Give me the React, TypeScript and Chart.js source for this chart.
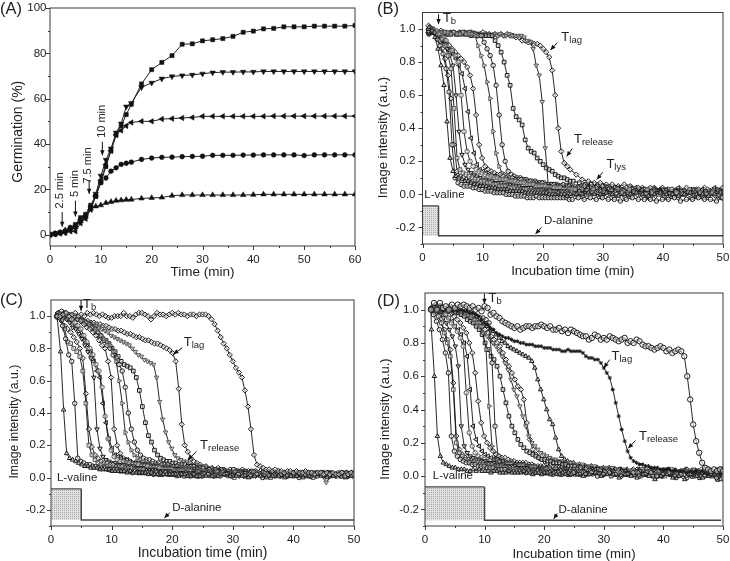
import React, { useEffect, useRef } from "react";
import { Chart, registerables } from "chart.js";
Chart.register(...registerables);

const FONT = "'Liberation Sans', Arial, sans-serif";

// ---------- Panel A ----------
const timeA = [0,1,2,3,4,5,6,7,8,9,
 10,11,12,13,14,15,16,18,20,22,
 24,26,28,30,32,34,36,38,40,42,
 44,46,48,50,52,54,56,58,60];
const germSquare = [0,0.5,1,1.5,3,4.5,7.5,9,13,17,
 23,30,37,44,48,53,57.5,66.5,72.8,76,
 79,84,84.2,85.5,86,86.5,87.5,89.3,89.8,90.8,
 91,91.7,91.7,91.7,92,92,92,92,92.3];
const germDown = [0,0.3,0.8,1,2,3,6,8,12,18,
 26,33,38,45,49,56.5,58,65,67,68.8,
 69.8,70.2,70.5,71,71.5,71.7,71.7,71.8,71.8,72,
 72,72,72,72,72,72,72,72,72];
const germLeft = [0,0.2,0.5,0.8,1.5,1.5,5,7,11,17,
 24,31,37,44,46,48,49.5,50,50,51,
 51.2,51.5,51.7,52.2,52.2,52.2,52.2,52.2,52.2,52.2,
 52.3,52.3,52.3,52.3,52.3,52.3,52.3,52.3,52.3];
const germCircle = [0,0.3,0.8,1.5,3,4,6.5,8,12,17,
 23,25,28,29.5,31,31.5,32,33.2,33.8,34.1,
 34.2,34.4,34.5,34.6,35,35,35,35.1,35.1,35.2,
 35.2,35.2,35.2,34.9,35.2,35.2,35.2,35.2,35.2];
const germUp = [0,0.5,1,2,3,3.5,6,8,11.5,12.5,
 13,14,14.5,15,15.2,15.4,15.5,16,16.2,16.4,
 17.2,17.5,17.5,17.5,17.5,17.5,17.5,17.5,17.6,17.8,
 17.8,17.8,17.8,17.8,17.8,17.8,17.8,17.8,17.8];

// ---------- tick values ----------
const ticksAy = [0,10,20,30,40,50,60,70,80,90,100];
const ticksAx = [0,5,10,15,20,25,30,35,40,45,50,55,60];
const ticksIntensity = [-0.3,-0.2,-0.1,0,0.1,0.2,0.3,0.4,0.5,0.6,0.7,0.8,0.9,1.0];
const ticksIncubation = [0,5,10,15,20,25,30,35,40,45,50];

// ---------- sampling times (min) ----------
const timeMain = [1,1.5,2,2.5,3,3.5,4,4.5,5,5.5,
 6,6.5,7,7.5,8,8.5,9,9.5,10,10.5,
 11,11.5,12,12.5,13,13.5,14,14.5,15,15.5,
 16,16.5,17,17.5,18,18.5,19,19.5,20,20.5,
 21,21.5,22,22.5,23,23.5,24,24.5,25,26,
 27,28,29,30,31,32,33,34,35,36,
 37,38,39,40,41,42,43,44,45,46,
 47,48,49,50];
const timeFine = [1,1.5,2,2.5,3,3.5,4,4.5,5,5.5,
 6,6.5,7,7.5,8,8.5,9,9.5,10,10.5,
 11,11.5,12,12.5,13,13.5,14,14.5,15,15.5,
 16,16.5,17,17.5,18,18.5,19,19.5,20,20.5,
 21,21.5,22,22.5,23,23.5,24,24.5,25,25.5,
 26,26.5,27,27.5,28,28.5,29,29.5,30,30.5,
 31,31.5,32,32.5,33,33.5,34,34.5,35,35.5,
 36,36.5,37,37.5,38,38.5,39,39.5,40,40.5,
 41,41.5,42,42.5,43,43.5,44,44.5,45,45.5,
 46,46.5,47,47.5,48,48.5,49,49.5,50];

// ---------- Panel B (image intensity x 100) ----------
const b1 = [100,101,99,95,88,78,66,44,22,14, 11,10,9,8,8,7,6,6,5,5, 5,4,4,4,3,3,3,3,2,2, 2,2,2,1,1,1,1,1,1,1, 1,0,0,0,1,0,0,-1,0,0, 0,1,0,0,1,0,-1,0,0,1, 0,-1,0,1,0,0,-1,0,1,0, 0,-1,0,1];
const b2 = [99,100,98,94,90,85,76,62,30,10, 7,6,5,5,5,4,4,3,3,2, 2,2,1,1,1,1,0,0,0,-1, -1,-1,-1,-2,-2,-2,-1,-2,-2,-2, -2,-2,-2,-2,-2,-2,-2,-3,-3,-2, -3,-2,-3,-2,-3,-3,-4,-3,-2,-3, -3,-3,-4,-3,-3,-2,-4,-3,-3,-2, -3,-3,-4,-2];
const b3 = [100,100,99,97,94,90,84,76,52,22, 15,13,12,11,10,9,9,8,8,7, 7,6,6,5,5,5,4,4,4,3, 3,3,3,2,2,2,2,2,1,1, 1,1,1,1,1,0,0,1,0,0, 0,1,0,1,0,0,1,0,1,0, 0,1,0,-1,0,1,0,1,0,1, 0,1,0,1];
const b4 = [102,101,100,97,93,88,82,72,58,30, 14,11,10,9,8,8,7,7,6,6, 5,5,5,4,4,4,3,4,3,3, 3,2,3,2,2,2,1,2,1,1, 1,2,1,1,0,1,1,0,1,0, -1,0,1,-1,0,-1,0,-2,-1,0, -1,-2,-1,0,-2,-1,-1,0,-2,-1, -2,0,-1,-2];
const b5 = [98,99,97,96,94,91,88,84,78,60, 38,24,18,15,13,12,11,10,9,9, 8,8,7,7,7,6,6,6,5,5, 5,4,4,4,4,3,3,3,3,2, 3,2,2,2,2,1,2,1,1,2, 1,1,2,0,1,2,1,0,2,1, 1,2,1,3,1,2,2,1,3,1, 2,1,3,2];
const b6 = [100,99,98,97,95,93,90,87,84,80, 60,38,26,20,17,15,14,13,12,11, 11,10,10,9,9,9,8,8,8,7, 7,7,6,6,6,5,5,5,5,4, 4,4,4,4,3,3,3,3,3,3, 2,3,2,1,2,3,2,3,2,1, 3,2,1,2,3,1,2,3,2,1, 3,2,2,3];
const b7 = [98,99,98,97,96,94,92,90,87,85, 82,78,73,64,50,34,25,18,15,14, 13,12,11,11,10,9,9,9,8,8, 8,7,7,7,6,6,6,6,5,5, 5,5,4,5,4,4,4,3,4,3, 3,4,3,3,2,3,4,2,3,2, 3,1,3,2,3,2,4,2,3,1, 3,2,4,2];
const b8 = [100,100,99,98,96,95,92,90,88,86, 84,82,80,77,72,64,48,30,22,17, 15,14,13,12,12,11,10,10,10,9, 9,9,8,8,8,7,7,7,7,6, 6,6,6,5,5,6,5,5,4,4, 5,4,4,5,3,4,3,4,3,4, 3,4,2,4,3,2,3,4,2,3, 4,2,3,4];
const b9 = [99,99,99,98,98,98,98,97,98,97, 97,98,97,97,97,96,90,84,78,68, 58,38,25,17,13,12,11,10,10,9, 9,8,8,8,7,7,7,7,6,6, 6,5,5,5,5,5,4,4,4,3, 4,3,3,4,2,3,2,3,1,2, 3,2,1,3,2,0,2,1,3,2, 1,2,0,1];
const b10 = [98,98,98,98,98,97,98,97,97,98, 97,97,98,97,98,97,97,96,96,92, 88,84,78,66,48,30,20,14,12,11, 10,10,9,9,8,8,8,7,7,7, 6,6,6,6,5,5,5,5,4,4, 4,4,3,3,4,3,3,2,3,2, 3,2,1,3,2,1,0,2,1,2, 0,2,1,-1];
const b11 = [97,98,98,97,97,98,97,97,98,97, 97,98,97,97,96,97,97,96,96,96, 96,96,93,90,86,80,72,66,52,47, 45,42,33,28,26,25,22,20,18,16, 15,14,12,11,10,10,9,8,8,7, 6,6,5,5,4,4,3,3,2,3, 2,1,2,0,1,2,0,1,-1,1, 0,1,-1,0];
const b12 = [98,98,98,98,97,98,98,97,97,97, 98,97,98,97,98,97,97,96,97,97, 96,97,96,97,96,96,97,96,96,96, 96,95,93,92,88,78,72,56,28,6, 5,5,6,5,6,5,6,5,5,5, 6,5,4,5,4,4,3,5,4,3, 3,4,2,3,2,3,1,2,3,1, 2,1,0,2];
const b13 = [98,97,98,98,97,99,98,97,98,98, 97,98,97,98,97,98,97,96,97,98, 97,97,96,97,96,97,96,97,96,96, 95,95,93,93,92,92,91,91,90,88, 86,83,75,60,40,26,19,17,15,12, 9,8,7,7,6,6,5,6,5,4, 4,3,4,3,2,3,2,1,2,3, 1,2,3,1];

// ---------- Panel C ----------
const c1 = [100,100,78,42,15,12,11,10,9,8, 7,7,6,6,6,5,5,5,5,4, 4,4,4,4,3,4,3,3,3,3, 3,2,3,2,2,3,2,2,2,2, 2,1,2,2,1,1,2,1,1,1, 1,1,2,1,1,1,0,1,1,0, 1,1,0,1,1,0,1,2,1,0, 1,2,0,1];
const c2 = [100,99,94,86,76,72,46,12,10,9, 8,8,7,7,6,6,6,5,5,5, 5,4,4,4,4,3,4,3,3,3, 3,3,2,3,2,2,3,2,2,2, 2,2,1,2,1,2,1,1,1,2, 1,1,2,1,2,1,1,2,0,1, 1,2,1,1,0,2,1,1,2,1, 2,1,1,2];
const c3 = [100,98,92,84,83,80,78,75,66,46, 20,14,11,9,8,7,7,6,6,6, 5,5,5,4,4,4,4,3,3,3, 3,3,3,2,2,3,2,2,2,1, 2,2,1,2,1,2,1,1,2,1, 1,2,1,0,2,1,1,2,1,0, 1,2,1,1,2,1,0,2,2,1, 1,2,2,1];
const c4 = [100,100,97,94,92,90,87,84,80,74, 52,30,19,14,12,10,9,9,8,8, 7,7,7,6,6,6,5,5,5,5, 4,4,4,4,3,3,3,3,3,2, 3,2,2,3,2,2,2,1,2,2, 1,2,2,1,2,1,2,1,1,2, 2,1,1,3,1,2,1,2,3,1, 2,2,3,1];
const c5 = [100,100,99,98,96,93,92,89,86,82, 78,74,62,30,18,13,11,10,9,9, 8,8,8,7,7,7,6,6,6,5, 5,5,5,4,4,4,4,4,3,3, 3,3,3,3,2,3,2,2,3,2, 2,2,3,2,1,3,2,2,1,2, 2,3,1,2,2,3,1,2,2,3, 1,2,3,2];
const c6 = [101,100,100,99,98,96,94,92,88,84, 80,76,70,66,56,38,24,17,13,11, 10,10,9,9,8,8,8,7,7,7, 6,6,6,6,5,5,5,5,4,4, 4,4,4,4,3,3,3,3,3,2, 3,3,2,3,2,2,3,2,3,1, 2,3,2,2,3,1,2,3,2,2, 3,1,2,3];
const c7 = [100,102,101,101,100,98,96,94,92,88, 85,82,78,72,66,62,46,34,24,18, 14,13,12,11,11,10,9,9,9,8, 8,8,7,7,7,6,6,6,6,5, 5,5,5,4,5,4,4,4,3,3, 3,4,3,2,3,3,2,3,2,3, 3,2,1,3,2,3,2,1,3,2, 2,1,3,2];
const c8 = [99,101,101,102,101,100,100,98,97,95, 93,92,90,88,85,82,80,72,62,30, 20,15,12,11,10,9,9,8,8,8, 7,7,7,6,6,6,5,5,5,5, 5,4,4,4,4,4,4,3,3,3, 3,3,3,2,3,2,3,2,3,2, 3,1,2,3,2,3,1,2,3,2, 1,3,2,3];
const c9 = [100,101,101,100,101,100,99,98,97,96, 94,93,91,90,88,86,84,82,78,72, 60,46,28,22,17,14,12,11,10,10, 9,9,8,8,8,7,7,7,6,6, 6,6,5,5,5,5,5,4,4,4, 4,3,4,3,3,3,2,3,3,2, 3,2,2,3,1,3,2,2,3,1, 2,3,1,2];
const c10 = [100,102,103,102,101,100,100,99,98,97, 96,95,93,92,90,88,85,82,80,76, 74,70,66,56,40,30,22,17,14,12, 11,11,10,9,9,8,8,8,7,7, 7,6,6,6,6,5,5,5,4,4, 4,4,4,3,4,3,3,4,2,3, 2,3,3,2,3,2,1,3,2,3, 2,1,3,2];
const c11 = [101,100,100,100,99,100,99,98,97,96, 95,94,92,90,88,86,85,83,80,78, 75,72,70,69,68,66,62,54,44,34, 26,22,17,14,12,11,10,10,9,9, 8,8,8,7,7,7,6,6,6,5, 5,5,4,5,4,4,4,3,4,3, 3,3,2,3,3,2,3,2,1,3, 2,3,1,2];
const c12 = [100,100,99,99,98,98,98,97,97,96, 96,95,94,93,92,91,90,88,87,86, 85,84,83,82,80,78,76,75,73,72, 71,70,62,47,36,28,22,18,14,12, 11,10,10,9,8,8,7,7,7,6, 5,5,4,4,4,3,4,3,3,3, 3,2,2,3,1,2,3,2,-3,2, 3,2,2,2];
const c13 = [100,101,100,100,99,100,99,99,98,98, 97,97,96,96,95,95,94,94,93,92, 92,91,91,90,89,89,88,87,87,86, 85,85,84,83,83,82,81,80,79,77, 72,55,33,20,16,12,10,9,8,7, 6,6,5,5,4,5,4,3,4,3, 3,4,3,2,3,2,3,1,2,3, 2,2,1,3];
const c14Fine = [100,100,101,102,100,101,102,100,101,100, 102,101,102,101,100,101,100,99,99,100, 100,100,102,100,100,99,101,102,102,101, 100,98,100,102,101,101,100,101,102,101, 102,101,101,100,101,101,100,101,101,101, 100,98,95,91,87,83,80,76,72,68, 65,62,54,44,30,14,8,7,6,5, 5,4,5,4,4,3,4,4,3,4, 3,3,4,3,3,2,3,3,2,3, 2,3,2,2,3,1,2,3,2];

// ---------- Panel D ----------
const d1 = [100,88,60,24,12,8,7,6,5,5, 4,4,4,3,3,4,3,4,3,3, 3,2,3,3,2,2,2,3,2,2, 2,2,3,2,2,1,2,2,1,2, 2,1,2,1,1,2,1,2,1,1, 0,1,2,0,1,1,-1,1,0,-1, 1,0,-2,0,1,-1,0,-2,1,0, -1,0,1,-2];
const d2 = [100,97,93,88,82,74,62,24,15,12, 10,9,8,8,7,7,6,6,6,5, 5,5,4,4,4,4,3,3,3,3, 3,3,2,3,2,2,3,2,2,2, 2,1,2,2,1,2,1,1,2,1, 1,2,0,1,2,1,0,1,2,0, 1,2,0,1,2,0,1,-1,1,2, 0,1,-1,1];
const d3 = [100,98,96,92,86,80,72,52,20,14, 12,10,9,8,8,8,7,7,6,6, 6,5,5,5,5,4,4,4,4,3, 3,3,3,3,2,3,2,2,3,2, 2,2,2,1,2,2,1,2,1,2, 1,2,1,2,0,2,1,1,2,0, 2,1,3,0,2,1,3,1,0,2, 1,3,0,2];
const d4 = [100,99,98,96,92,88,82,76,56,24, 16,13,11,10,9,9,8,8,8,7, 7,7,6,6,6,5,5,5,5,4, 4,4,4,4,3,3,3,3,3,2, 3,3,2,2,3,2,2,3,2,2, 2,3,2,1,3,2,2,1,3,2, 1,3,2,0,3,1,2,3,0,2, 3,1,2,4];
const d5 = [100,100,99,97,95,92,88,84,78,66, 30,18,14,12,11,10,10,9,9,8, 8,8,7,7,7,6,6,6,6,5, 5,5,5,4,4,4,4,4,3,3, 3,3,3,3,2,3,3,2,3,2, 2,3,2,3,2,1,3,2,2,3, 1,3,2,4,1,2,3,1,4,2, 3,1,4,2];
const d6 = [100,100,100,98,97,95,92,90,87,83, 78,50,26,18,14,12,11,10,9,9, 8,8,8,7,7,7,7,6,6,6, 6,5,5,5,5,4,4,4,4,4, 3,4,3,3,3,3,2,3,3,2, 3,2,3,3,2,3,1,3,2,4, 2,3,1,3,4,2,1,3,2,4, 3,1,4,2];
const d7 = [101,100,100,100,99,98,97,95,93,90, 88,85,80,72,52,30,22,18,15,13, 12,11,10,10,9,9,8,8,8,7, 7,7,7,6,6,6,5,5,5,5, 5,4,4,4,4,4,4,3,3,3, 3,3,4,3,2,3,4,3,2,3, 4,2,3,1,4,3,2,4,1,3, 2,4,2,3];
const d8 = [100,102,101,101,100,99,99,98,96,94, 92,89,86,80,74,62,45,32,24,20, 17,15,13,12,11,11,10,9,9,8, 8,8,8,7,7,6,6,6,6,5, 5,5,5,5,5,4,4,4,4,3, 4,3,4,3,2,4,3,2,4,3, 2,4,3,1,4,2,3,4,1,3, 4,2,1,4];
const d9 = [100,101,101,102,101,101,100,100,99,99, 99,98,97,96,94,92,90,86,76,42, 18,10,8,7,6,6,5,5,5,4, 4,4,4,3,3,3,3,3,3,2, 2,2,3,2,2,2,1,2,2,1, 2,1,2,1,0,2,1,2,3,1, 2,0,3,1,2,-1,3,1,2,0, 3,1,-1,2];
const d10 = [100,101,103,102,102,100,101,102,100,100, 100,99,99,99,98,97,96,95,95,94, 92,68,30,12,9,8,7,7,6,6, 6,5,5,5,5,4,4,4,4,3, 3,3,3,3,3,2,3,2,2,3, 2,2,3,1,2,3,1,3,2,3, 1,3,2,0,3,1,2,3,0,2, 3,1,0,3];
const d11 = [100,100,100,100,100,99,99,99,98,98, 97,96,94,93,92,90,88,85,80,76, 72,70,66,60,52,44,36,30,26,22, 19,17,15,14,13,12,11,10,10,9, 9,8,8,8,7,7,6,6,6,5, 5,4,4,3,3,2,3,2,1,2, 1,2,0,2,1,-1,1,2,0,-1, 1,0,-2,1];
const d12 = [100,100,101,100,101,100,100,99,99,98, 97,96,95,93,91,90,88,86,84,82, 80,78,75,72,68,64,58,52,48,42, 36,30,24,20,18,16,14,13,12,11, 10,10,9,9,8,8,8,7,7,7, 6,6,5,5,5,4,4,3,3,4, 3,3,2,3,1,2,3,1,2,3, 1,2,0,2];
const d13 = [101,100,102,100,101,101,100,100,99,99, 99,98,98,97,97,96,94,92,90,88, 86,84,82,80,78,74,70,66,62,58, 54,52,46,32,22,16,13,11,10,9, 8,8,8,7,7,6,6,6,6,5, 5,5,4,4,4,3,4,3,3,4, 3,4,2,3,2,3,2,3,1,3, 2,4,1,3];
const d14 = [100,101,102,100,101,100,100,100,99,99, 98,98,97,97,96,95,94,92,91,90, 88,87,85,83,81,80,78,77,76,75, 74,73,72,71,69,65,58,52,46,40, 34,31,23,16,12,10,9,8,8,7, 6,6,5,5,5,4,4,4,3,4, 3,3,2,3,2,3,1,3,2,2, 2,3,1,2];
const d15Fine = [100,100,99,100,99,100,100,99,100,99, 100,99,99,98,98,97,96,94,92,91, 89,88,86,85,84,83,83,82,81,81, 80,80,79,79,79,78,78,78,77,77, 77,76,76,76,75,75,76,75,75,75, 75,74,72,71,71,70,70,68,65,62, 59,52,44,36,28,21,15,11,9,8, 7,7,6,6,5,5,5,4,4,4, 4,3,4,3,3,3,2,3,2,3, 2,3,2,1,3,2,2,1,3];
const d16Fine = [100,104,100,104,101,102,100,103,101,103, 102,103,102,101,102,100,101,99,102,101, 97,98,96,95,93,92,91,90,89,90, 88,89,90,90,89,90,90,91,90,89, 90,88,88,89,87,88,86,88,87,86, 85,84,84,82,83,85,84,82,83,82, 84,83,82,81,82,83,80,81,80,82, 81,79,78,78,77,76,77,78,77,75, 76,74,75,76,75,72,60,46,31,21, 14,8,5,4,3,4,3,4,3];

const curvesB = [b1,b2,b3,b4,b5,b6,b7,b8,b9,b10,b11,b12,b13];
const curvesC = [c1,c2,c3,c4,c5,c6,c7,c8,c9,c10,c11,c12,c13];
const curvesD = [d1,d2,d3,d4,d5,d6,d7,d8,d9,d10,d11,d12,d13,d14];

// value-space pulses: [x, y]
const valineB = [[0,-0.07],[2.67,-0.07]];
const valineC = [[0,-0.07],[5,-0.07]];
const valineD = [[0,-0.065],[10,-0.065]];
const alanineB = [[2.67,-0.07],[2.67,-0.25],[50,-0.25]];
const alanineC = [[5,-0.07],[5,-0.263],[50,-0.263]];
const alanineD = [[10,-0.065],[10,-0.265],[49.7,-0.265]];

const annotateA = {
  texts: [
    { x: 2.0, y: 19.5, s: "2.5 min", rot: true },
    { x: 4.9, y: 22.5, s: "5 min", rot: true },
    { x: 7.5, y: 30.5, s: "7.5 min", rot: true },
    { x: 10.2, y: 50, s: "10 min", rot: true },
  ],
  arrows: [[2.4,10,2.4,3.5],[5,15,5,8],[7.7,24,7.7,18],[10.3,41,10.3,35]],
};
const annotateB = {
  texts: [
    { x: 3.4, y: 1.065, s: "T", sub: "b" },
    { x: 23.1, y: 0.95, s: "T", sub: "lag" },
    { x: 25.2, y: 0.33, s: "T", sub: "release" },
    { x: 30.6, y: 0.18, s: "T", sub: "lys" },
    { x: 0.3, y: 0.0, s: "L-valine" },
    { x: 20.2, y: -0.157, s: "D-alanine" },
  ],
  arrows: [[2.67,1.09,2.67,1.03],[22.4,0.917,21.3,0.873],[24.9,0.277,24,0.23],[30,0.134,29,0.09],[19.8,-0.2,18.8,-0.24]],
};
const annotateC = {
  texts: [
    { x: 5.3, y: 1.07, s: "T", sub: "b" },
    { x: 21.9, y: 0.84, s: "T", sub: "lag" },
    { x: 24.6, y: 0.2, s: "T", sub: "release" },
    { x: 1, y: 0.0, s: "L-valine" },
    { x: 20, y: -0.19, s: "D-alanine" },
  ],
  arrows: [[4.96,1.1,4.96,1.033],[21.65,0.804,20.2,0.765],[24,0.162,22.6,0.11],[19.6,-0.218,18.7,-0.25]],
};
const annotateD = {
  texts: [
    { x: 10.65, y: 1.07, s: "T", sub: "b" },
    { x: 31.3, y: 0.72, s: "T", sub: "lag" },
    { x: 35.9, y: 0.237, s: "T", sub: "release" },
    { x: 1.3, y: 0.0, s: "L-valine" },
    { x: 22.4, y: -0.2, s: "D-alanine" },
  ],
  arrows: [[9.97,1.096,9.97,1.036],[31,0.7,30,0.65],[35.3,0.213,34.1,0.167],[22.2,-0.225,21.6,-0.257]],
};

const markerCycle = [
  { s: "triangle", r: 0, k: 1 },
  { s: "circle", r: 0, k: 0.85 },
  { s: "rect", r: 0, k: 1 },
  { s: "rectRot", r: 0, k: 1 },
  { s: "triangle", r: 180, k: 1 },
  { s: "circle", r: 0, k: 0.85 },
  { s: "triangle", r: 270, k: 1 },
  { s: "rectRot", r: 0, k: 1 },
  { s: "triangle", r: 90, k: 1 },
  { s: "circle", r: 0, k: 0.85 },
  { s: "rect", r: 0, k: 1 },
  { s: "triangle", r: 180, k: 1 },
  { s: "rectRot", r: 0, k: 1 },
];
const sampleLag = [-0.42, -0.08, 0.25, -0.25, 0.08, 0.42];

function intensityCurve(values: number[], times: number[], i: number, radius = 2.6, style?: any) {
  const m = style || markerCycle[i % markerCycle.length];
  const lag = times === timeFine ? 0 : sampleLag[i % sampleLag.length];
  const grey = i % 3 === 2 ? "#555" : "#1c1c1c";
  return {
    data: values.map((v, k) => ({ x: Math.max(times[k] + lag, 1), y: v / 100 })),
    showLine: true,
    borderColor: "#111",
    borderWidth: 0.9,
    backgroundColor: "#fff",
    pointBackgroundColor: "rgba(255,255,255,0.5)",
    pointBorderColor: grey,
    pointBorderWidth: 1,
    pointRadius: radius * (m.k ?? 1),
    pointStyle: m.s,
    pointRotation: m.r,
    tension: 0,
  };
}
function germCurve(values: number[], s: string, r: number, radius = 2.8) {
  return {
    data: values.map((v, k) => ({ x: timeA[k], y: v })),
    showLine: true,
    borderColor: "#222",
    borderWidth: 1,
    pointBackgroundColor: "#111",
    pointBorderColor: "#111",
    pointBorderWidth: 0.5,
    pointRadius: radius,
    pointStyle: s,
    pointRotation: r,
    tension: 0,
  };
}
function pulseSets(valine: number[][], alanine: number[][], baseY: number, pattern: any) {
  const pts = (a: number[][]) => a.map(([x, y]) => ({ x, y }));
  return [
    { data: pts(alanine), showLine: true, borderColor: "#444", borderWidth: 1.4, pointRadius: 0, tension: 0 },
    { data: pts(valine), showLine: true, borderColor: "#444", borderWidth: 1.2, pointRadius: 0, tension: 0, backgroundColor: pattern, fill: { value: baseY } },
  ];
}

function panelPlugin(p: any) {
  return {
    id: "panelDecor" + p.index,
    afterDraw(chart: any) {
      const { ctx, chartArea: a, scales } = chart;
      const xs = scales.x, ys = scales.y;
      ctx.save();
      ctx.strokeStyle = "#3a3a3a";
      ctx.lineWidth = 1;
      ctx.strokeRect(a.left, a.top, a.right - a.left, a.bottom - a.top);
      xs.ticks.forEach((t: any) => {
        const px = Math.round(xs.getPixelForValue(t.value)) + 0.5;
        const major = Math.abs(t.value % p.xMajor) < 1e-6;
        ctx.beginPath(); ctx.moveTo(px, a.bottom); ctx.lineTo(px, a.bottom + (major ? 4 : 2)); ctx.stroke();
      });
      ys.ticks.forEach((t: any) => {
        const py = Math.round(ys.getPixelForValue(t.value)) + 0.5;
        const q = t.value / p.yMajor;
        const major = Math.abs(q - Math.round(q)) < 1e-6;
        ctx.beginPath(); ctx.moveTo(a.left, py); ctx.lineTo(a.left - (major ? 4 : 2), py); ctx.stroke();
      });
      p.notes.arrows.forEach(([x1, y1, x2, y2]: number[]) => {
        const X1 = xs.getPixelForValue(x1), Y1 = ys.getPixelForValue(y1);
        const X2 = xs.getPixelForValue(x2), Y2 = ys.getPixelForValue(y2);
        const ang = Math.atan2(Y2 - Y1, X2 - X1);
        ctx.strokeStyle = "#111"; ctx.fillStyle = "#111"; ctx.lineWidth = 1;
        ctx.beginPath(); ctx.moveTo(X1, Y1); ctx.lineTo(X2, Y2); ctx.stroke();
        ctx.beginPath(); ctx.moveTo(X2, Y2);
        ctx.lineTo(X2 - 5.5 * Math.cos(ang - 0.42), Y2 - 5.5 * Math.sin(ang - 0.42));
        ctx.lineTo(X2 - 5.5 * Math.cos(ang + 0.42), Y2 - 5.5 * Math.sin(ang + 0.42));
        ctx.closePath(); ctx.fill();
      });
      ctx.fillStyle = "#222";
      ctx.textBaseline = "middle";
      p.notes.texts.forEach((t: any) => {
        const X = xs.getPixelForValue(t.x), Y = ys.getPixelForValue(t.y);
        if (t.rot) {
          ctx.save(); ctx.translate(X, Y); ctx.rotate(-Math.PI / 2);
          ctx.textAlign = "center"; ctx.font = `11px ${FONT}`;
          ctx.fillText(t.s, 0, 0); ctx.restore();
        } else if (t.sub) {
          ctx.textAlign = "left"; ctx.font = `13px ${FONT}`;
          ctx.fillText(t.s, X, Y);
          const w = ctx.measureText(t.s).width;
          ctx.font = `9.5px ${FONT}`;
          ctx.fillText(t.sub, X + w, Y + 3);
        } else {
          ctx.textAlign = "left"; ctx.font = `11.5px ${FONT}`;
          ctx.fillText(t.s, X, Y);
        }
      });
      // axis titles
      ctx.fillStyle = "#222";
      ctx.textAlign = "center";
      ctx.font = `${p.xTitleSize}px ${FONT}`;
      ctx.fillText(p.xTitle, (a.left + a.right) / 2, p.xTitleY);
      ctx.save();
      ctx.translate(p.yTitleX, p.yTitleY);
      ctx.rotate(-Math.PI / 2);
      ctx.font = `${p.yTitleSize}px ${FONT}`;
      ctx.fillText(p.yTitle, 0, 0);
      ctx.restore();
      // panel letter
      ctx.textAlign = "left";
      ctx.font = `16.5px ${FONT}`;
      ctx.fillText(p.label, p.labelX, p.labelY);
      ctx.restore();
    },
  };
}

const panels: any[] = [
  { index: 0, label: "(A)", labelX: 0, labelY: 9, left: 0, top: 0, w: 365, h: 280, plot: [50, 8, 355, 246],
    xMax: 60, yMin: -5, yMax: 100, yMajor: 20, xMajor: 10, xTitle: "Time (min)", yTitle: "Germination (%)",
    xTicks: ticksAx, yTicks: ticksAy, xTitleSize: 13.5, xTitleY: 272.7, yTitleSize: 14, yTitleX: 18, yTitleY: 131.7, yPad: 3.5,
    notes: annotateA, yFmt: (v: number) => (v % 20 === 0 ? String(v) : "") },
  { index: 1, label: "(B)", labelX: 12, labelY: 9, left: 365, top: 0, w: 365, h: 280, plot: [57.5, 12.5, 358, 244],
    xMax: 50, yMin: -0.3, yMax: 1.1, yMajor: 0.2, xMajor: 10, xTitle: "Incubation time (min)", yTitle: "Image intensity (a.u.)",
    xTicks: ticksIncubation, yTicks: ticksIntensity, xTitleSize: 13.2, xTitleY: 271.7, yTitleSize: 13, yTitleX: 18, yTitleY: 137.5, yPad: 7, notes: annotateB },
  { index: 2, label: "(C)", labelX: 0, labelY: 20, left: 0, top: 280, w: 365, h: 281, plot: [51, 20, 354, 246],
    xMax: 50, yMin: -0.3, yMax: 1.1, yMajor: 0.2, xMajor: 10, xTitle: "Incubation time (min)", yTitle: "Image intensity (a.u.)",
    xTicks: ticksIncubation, yTicks: ticksIntensity, xTitleSize: 13.9, xTitleY: 273, yTitleSize: 12.2, yTitleX: 15, yTitleY: 141.7, yPad: 5.5, notes: annotateC },
  { index: 3, label: "(D)", labelX: 12, labelY: 21.7, left: 365, top: 280, w: 365, h: 281, plot: [60, 13, 358, 246],
    xMax: 50, yMin: -0.3, yMax: 1.1, yMajor: 0.2, xMajor: 10, xTitle: "Incubation time (min)", yTitle: "Image intensity (a.u.)",
    xTicks: ticksIncubation, yTicks: ticksIntensity, xTitleSize: 13.2, xTitleY: 274, yTitleSize: 13, yTitleX: 20.7, yTitleY: 139, yPad: 6, notes: annotateD },
];

function stipple() {
  const c = document.createElement("canvas");
  c.width = 2; c.height = 2;
  const g = c.getContext("2d")!;
  g.fillStyle = "#e2e2e2"; g.fillRect(0, 0, 2, 2);
  g.fillStyle = "#a8a8a8"; g.fillRect(0, 0, 1, 1);
  return g.createPattern(c, "repeat");
}

function datasetsFor(i: number) {
  const pattern = stipple();
  if (i === 0)
    return [
      germCurve(germUp, "triangle", 0, 3.2),
      germCurve(germCircle, "circle", 0, 2.4),
      germCurve(germLeft, "triangle", 270, 3.2),
      germCurve(germDown, "triangle", 180, 3.2),
      germCurve(germSquare, "rect", 0, 2.9),
    ];
  if (i === 1)
    return [...curvesB.map((c, k) => intensityCurve(c, timeMain, k)), ...pulseSets(valineB, alanineB, -0.25, pattern)];
  if (i === 2)
    return [
      intensityCurve(c14Fine, timeFine, 0, 2.6, { s: "rectRot", r: 0 }),
      ...curvesC.map((c, k) => intensityCurve(c, timeMain, k)),
      ...pulseSets(valineC, alanineC, -0.263, pattern),
    ];
  return [
    intensityCurve(d16Fine, timeFine, 1, 2.7, { s: "circle", r: 0 }),
    intensityCurve(d15Fine, timeFine, 0, 2, { s: "star", r: 0 }),
    ...curvesD.map((c, k) => intensityCurve(c, timeMain, k)),
    ...pulseSets(valineD, alanineD, -0.265, pattern),
  ];
}

function noPadding(s: any) {
  s.paddingTop = 0; s.paddingBottom = 0; s.paddingLeft = 0; s.paddingRight = 0;
}

function Panel({ index }: { index: number }) {
  const ref = useRef<HTMLCanvasElement>(null);
  const p = panels[index];
  useEffect(() => {
    const [l, t, r, b] = p.plot;
    const fmt = p.yFmt || ((v: number) => {
      const q = Math.round(v * 10);
      return q % 2 === 0 ? (q / 10).toFixed(1) : "";
    });
    const chart = new Chart(ref.current!, {
      type: "scatter",
      data: { datasets: datasetsFor(index) as any },
      options: {
        animation: false,
        responsive: false,
        devicePixelRatio: 1,
        layout: { autoPadding: false, padding: { top: t, right: p.w - r, left: 0, bottom: 0 } },
        plugins: { legend: { display: false }, tooltip: { enabled: false } },
        scales: {
          x: {
            type: "linear", min: 0, max: p.xMax,
            grid: { display: false, drawTicks: false }, border: { display: false },
            afterBuildTicks: (s: any) => { s.ticks = p.xTicks.map((value: number) => ({ value })); },
            ticks: { autoSkip: false, maxRotation: 0, padding: 7, color: "#222",
              font: { family: FONT, size: 11.5 },
              callback: (v: any) => (v % p.xMajor === 0 ? String(v) : "") },
            afterFit: (s: any) => { s.height = p.h - b; noPadding(s); },
          },
          y: {
            type: "linear", min: p.yMin, max: p.yMax,
            grid: { display: false, drawTicks: false }, border: { display: false },
            afterBuildTicks: (s: any) => { s.ticks = p.yTicks.map((value: number) => ({ value })); },
            ticks: { autoSkip: false, padding: p.yPad, color: "#222",
              font: { family: FONT, size: 11.5 }, callback: (v: any) => fmt(v) },
            afterFit: (s: any) => { s.width = l; noPadding(s); },
          },
        },
      },
      plugins: [panelPlugin(p)],
    } as any);
    return () => chart.destroy();
  }, []);
  return (
    <canvas
      ref={ref}
      width={p.w}
      height={p.h}
      style={{ position: "absolute", left: p.left, top: p.top, width: p.w, height: p.h, filter: "blur(0.4px)" }}
    />
  );
}

export default function App() {
  return (
    <div style={{ position: "absolute", left: 0, top: 0, width: 730, height: 561, background: "#fff", overflow: "hidden" }}>
      {panels.map((_, i) => <Panel key={i} index={i} />)}
    </div>
  );
}
